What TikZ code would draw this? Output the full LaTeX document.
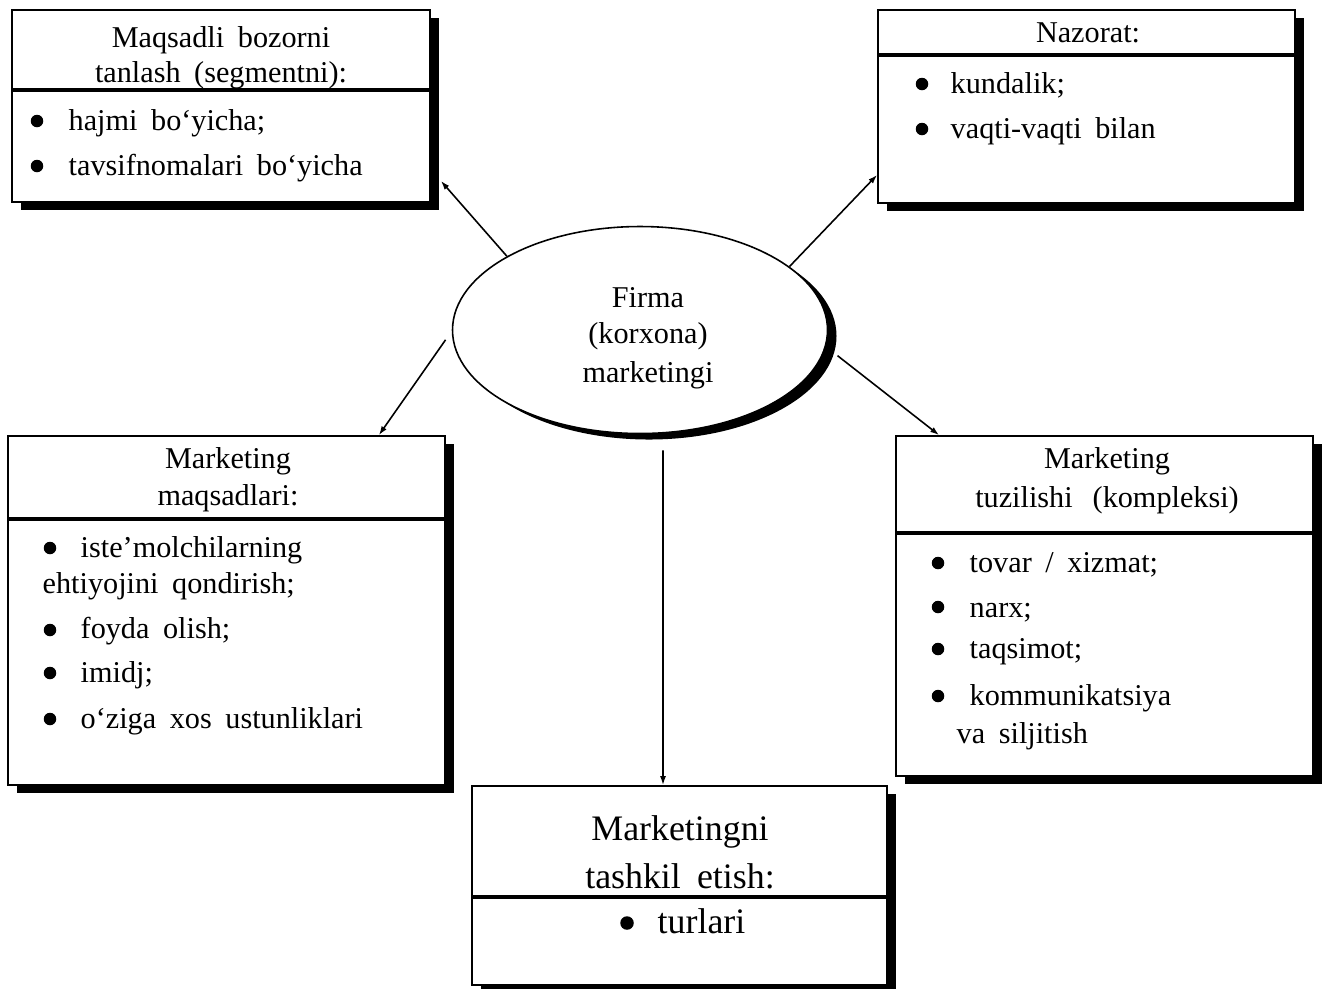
\documentclass[tikz,border=0pt]{standalone}
\usepackage{fontspec}
\setmainfont{Liberation Serif}[WordSpace=1.8]
\usetikzlibrary{shadows,arrows.meta,shapes.geometric}
\begin{document}
\begin{tikzpicture}[x=0.1mm,y=-0.1mm,
  box/.style={draw,line width=0.5pt,fill=white,rectangle,inner sep=0pt,
    drop shadow={shadow xshift=0.9mm,shadow yshift=-0.8mm,fill=black,opacity=1}},
  oval/.style={draw,ellipse,line width=0.45pt,fill=white,inner sep=0pt,
    drop shadow={shadow xshift=0.9mm,shadow yshift=-0.6mm,fill=black,opacity=1}},
  txt/.style={font=\fontsize{8.6}{10}\selectfont,inner sep=0pt,anchor=base},
  bigtxt/.style={font=\fontsize{10.2}{12}\selectfont,inner sep=0pt,anchor=base},
  item/.style={txt,anchor=base west},
  bigitem/.style={bigtxt,anchor=base west},
  dot/.style={circle,fill=black,inner sep=0pt,minimum size=1.25mm},
  rulebar/.style={line width=1pt},
  arr/.style={line width=0.45pt,-{Latex[length=0.9mm,width=0.6mm]}},
]
\useasboundingbox (0,0) rectangle (1322,988);

% central oval
\node[oval,minimum width=37.5mm,minimum height=20.7mm] (e) at (640,330) {};
\node[txt] (e1) at (648,307) {Firma};
\node[txt] (e2) at (648,343) {(korxona)};
\node[txt] (e3) at (648,382) {marketingi};

% target market box
\node[box,minimum width=41.8mm,minimum height=19.2mm] (b1) at (221,106) {};
\draw[rulebar] (12,90) -- (430,90);
\node[txt] (b1h1) at (221,47) {Maqsadli bozorni};
\node[txt] (b1h2) at (221,82) {tanlash (segmentni):};
\node[dot] (b1d1) at (37,121) {};
\node[item] (b1i1) at (68,130) {hajmi bo‘yicha;};
\node[dot] (b1d2) at (37,166) {};
\node[item] (b1i2) at (68,175) {tavsifnomalari bo‘yicha};

% control box
\node[box,minimum width=41.7mm,minimum height=19.3mm] (b2) at (1086.5,106.5) {};
\draw[rulebar] (878,55) -- (1295,55);
\node[txt] (b2h1) at (1088,42) {Nazorat:};
\node[dot] (b2d1) at (922,84) {};
\node[item] (b2i1) at (950,93) {kundalik;};
\node[dot] (b2d2) at (922,129) {};
\node[item] (b2i2) at (950,138) {vaqti-vaqti bilan};

% goals box
\node[box,minimum width=43.7mm,minimum height=34.9mm] (b3) at (226.5,610.5) {};
\draw[rulebar] (8,519) -- (445,519);
\node[txt] (b3h1) at (228,468) {Marketing};
\node[txt] (b3h2) at (228,505) {maqsadlari:};
\node[dot] (b3d1) at (50,548) {};
\node[item] (b3i1) at (80,557) {iste’molchilarning};
\node[item] (b3i1b) at (42,593) {ehtiyojini qondirish;};
\node[dot] (b3d2) at (50,630) {};
\node[item] (b3i2) at (80,638) {foyda olish;};
\node[dot] (b3d3) at (50,673) {};
\node[item] (b3i3) at (80,682) {imidj;};
\node[dot] (b3d4) at (50,719) {};
\node[item] (b3i4) at (80,728) {o‘ziga xos ustunliklari};

% structure box
\node[box,minimum width=41.7mm,minimum height=34mm] (b4) at (1104.5,606) {};
\draw[rulebar] (896,533) -- (1313,533);
\node[txt] (b4h1) at (1107,468) {Marketing};
\node[txt] (b4h2) at (1107,507) {tuzilishi\hspace{5.7pt}(kompleksi)};
\node[dot] (b4d1) at (938,563) {};
\node[item] (b4i1) at (969,572) {tovar / xizmat;};
\node[dot] (b4d2) at (938,607) {};
\node[item] (b4i2) at (969,617) {narx;};
\node[dot] (b4d3) at (938,649) {};
\node[item] (b4i3) at (969,658) {taqsimot;};
\node[dot] (b4d4) at (938,696) {};
\node[item] (b4i4) at (969,705) {kommunikatsiya};
\node[item] (b4i4b) at (956,743) {va siljitish};

% organisation box
\node[box,minimum width=41.5mm,minimum height=19.9mm] (b5) at (679.5,885.5) {};
\draw[rulebar] (472,897) -- (887,897);
\node[bigtxt] (b5h1) at (680,840) {Marketingni};
\node[bigtxt] (b5h2) at (680,888) {tashkil etish:};
\node[dot,minimum size=1.35mm] (b5d1) at (627,923) {};
\node[bigitem] (b5i1) at (657,933) {turlari};

% connectors
\draw[arr] (e.151) -- ([shift={(1mm,2.2mm)}]b1.south east);
\draw[arr] (e.23) -- ([yshift=2.9mm]b2.south west);
\draw[arr] ([xshift=-0.7mm]e.183) -- ([xshift=-6.7mm]b3.north east);
\draw[arr] ([xshift=1.5mm]e.352) -- ([xshift=4.4mm]b4.north west);
\draw[arr] ([shift={(2.3mm,-1.6mm)}]e.south) -- ([xshift=-1.65mm]b5.north);
\end{tikzpicture}
\end{document}
